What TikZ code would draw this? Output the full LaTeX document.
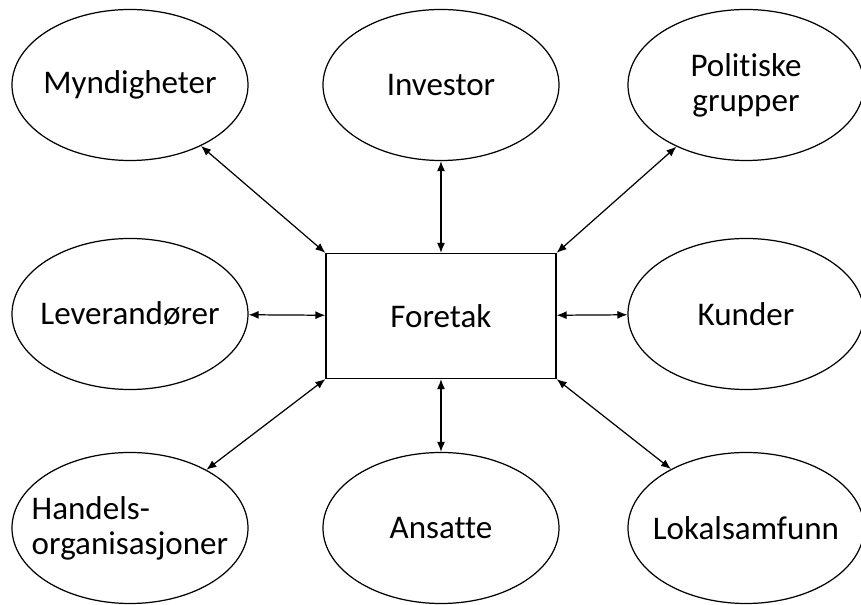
\documentclass[tikz,border=0pt]{standalone}
\usepackage{fontspec}
\setmainfont{Carlito}[Ligatures=NoCommon]
\usepackage{tikz}
\usetikzlibrary{arrows.meta, positioning, shapes}

\begin{document}
\begin{tikzpicture}[
    font=\fontsize{18.8}{20}\selectfont,
    party/.style={ellipse, draw, line width=0.7pt, minimum width=4.72cm, minimum height=3.02cm, inner sep=0pt},
    firm/.style={rectangle, draw, line width=0.7pt, minimum width=4.6cm, minimum height=2.5cm},
    link/.style={{Latex[length=2mm,width=1.6mm]}-{Latex[length=2mm,width=1.6mm]}, line width=0.7pt}
]
\useasboundingbox (-8.82,-5.78) rectangle (8.4,6.32);

% Centre
\node[firm] (firm) at (0,0) {Foretak};

% Top row
\node[party, label={center:Myndigheter}] (myn) at (-6.22,4.62) {};
\node[party, label={center:Investor}] (inv) at (0,4.62) {};
\node[party, label={[align=center]center:Politiske\\grupper}] (pol) at (6.1,4.62) {};

% Middle row
\node[party, label={center:Leverandører}] (lev) at (-6.22,0.04) {};
\node[party, label={center:Kunder}] (kun) at (6.1,0.04) {};

% Bottom row
\node[party, label={[align=left]center:Handels-\\organisasjoner}] (han) at (-6.22,-4.24) {};
\node[party, label={center:Ansatte}] (ans) at (0,-4.24) {};
\node[party, label={center:Lokalsamfunn}] (lok) at (6.1,-4.24) {};

\draw[link] (myn) -- (firm.north west);
\draw[link] (inv) -- (firm);
\draw[link] (pol) -- (firm.north east);
\draw[link] (lev) -- (firm);
\draw[link] (kun) -- (firm);
\draw[link] (han) -- (firm.south west);
\draw[link] (ans) -- (firm);
\draw[link] (lok) -- (firm.south east);

\end{tikzpicture}
\end{document}
